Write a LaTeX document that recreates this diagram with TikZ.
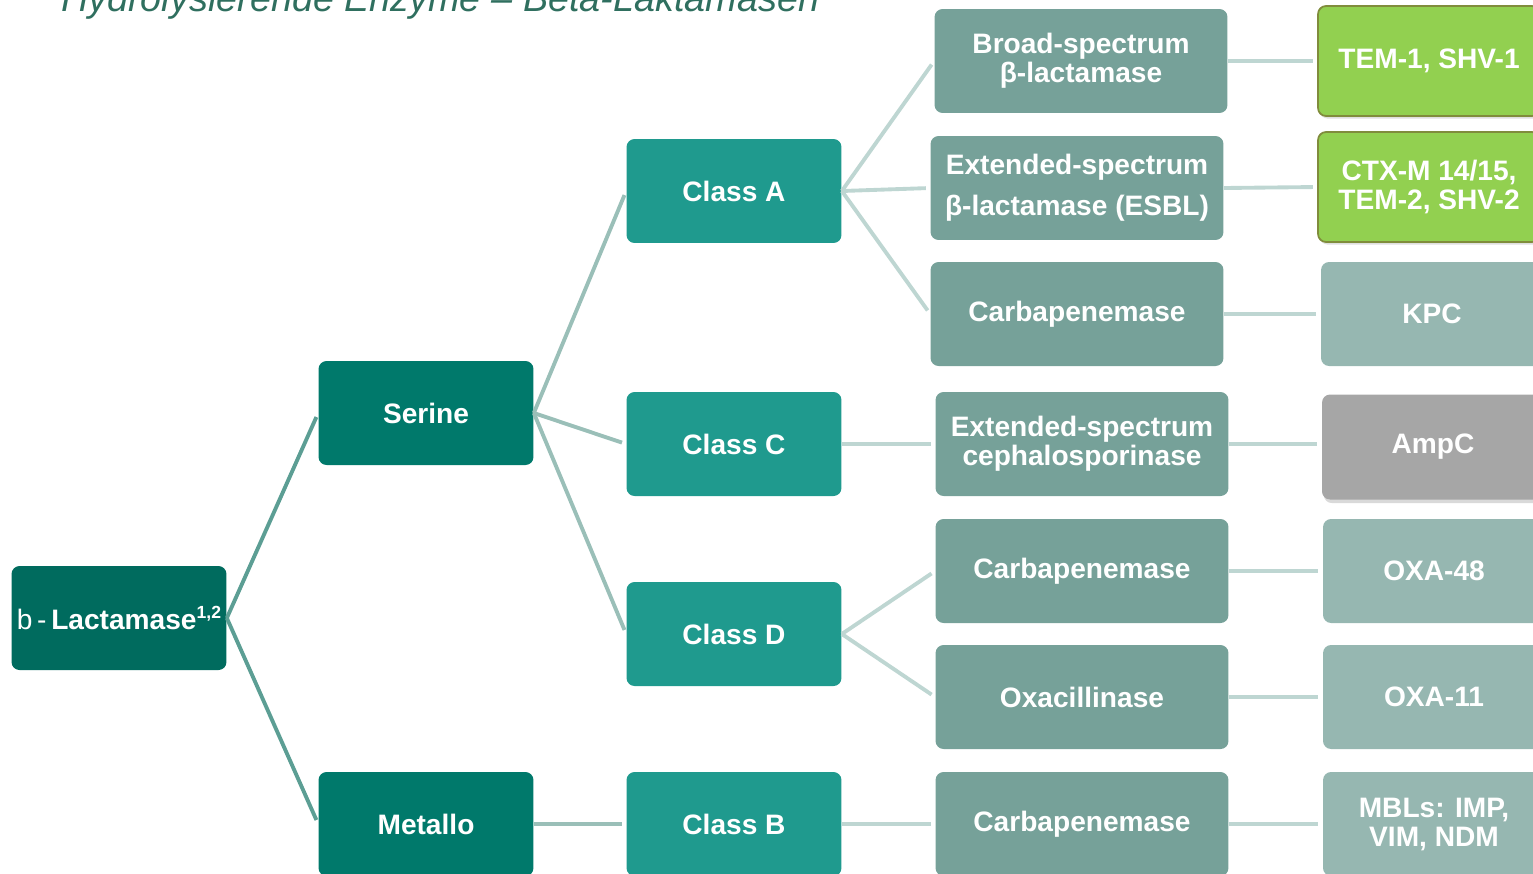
\documentclass[tikz,border=0pt]{standalone}
\usepackage{fontspec}
\setmainfont{Liberation Sans}
\usetikzlibrary{shadows}

\definecolor{rootgreen}{RGB}{0,107,94}
\definecolor{kindgreen}{RGB}{0,121,107}
\definecolor{classgreen}{RGB}{31,154,142}
\definecolor{typegreen}{RGB}{118,161,153}
\definecolor{examplegrey}{RGB}{150,183,177}
\definecolor{limegreen}{RGB}{146,208,80}
\definecolor{limeborder}{RGB}{128,140,60}
\definecolor{ampgrey}{RGB}{166,166,166}
\definecolor{titlegreen}{RGB}{47,111,95}
\definecolor{linkdark}{RGB}{92,158,148}
\definecolor{linkmid}{RGB}{154,191,184}
\definecolor{linklight}{RGB}{190,214,210}

\begin{document}
\begin{tikzpicture}[x=0.02cm,y=-0.02cm]
\tikzset{box/.style={rounded corners=0.16cm,text=white,align=center,inner sep=0pt,
  font=\fontsize{16}{16.5}\selectfont\bfseries},
  rootbox/.style={box,fill=rootgreen,minimum width=4.3cm,minimum height=2.08cm},
  kindbox/.style={box,fill=kindgreen,minimum width=4.3cm,minimum height=2.08cm},
  classbox/.style={box,fill=classgreen,minimum width=4.3cm,minimum height=2.08cm},
  typebox/.style={box,fill=typegreen,minimum width=5.86cm,minimum height=2.08cm},
  exbox/.style={box,fill=examplegrey,minimum width=4.44cm,minimum height=2.08cm},
  limebox/.style={box,fill=limegreen,draw=limeborder,line width=1pt,minimum width=4.44cm,minimum height=2.2cm,
    drop shadow={opacity=0.25,shadow xshift=1pt,shadow yshift=-1.5pt}},
  ampbox/.style={box,fill=ampgrey,minimum width=4.44cm,minimum height=2.1cm,
    drop shadow={opacity=0.3,shadow xshift=1pt,shadow yshift=-2pt}},
  link/.style={line width=2.2pt,shorten >=2.5pt}}
\path[use as bounding box] (0,0) rectangle (1533,873);
\clip (0,0) rectangle (1533,873);

\node[anchor=base west,text=titlegreen,font=\fontsize{21.5}{24}\selectfont\itshape] (title) at (55,11) {Hydrolysierende Enzyme -- Beta-Laktamasen};

% tree, left to right
\node[rootbox] (lact) at (119,618) {{\mdseries b\,-\,}Lactamase\raisebox{6pt}{\fontsize{10}{10}\selectfont 1,2}};

\node[kindbox] (serine) at (426,413) {Serine};
\node[kindbox] (metallo) at (426,824) {Metallo};

\node[classbox] (classa) at (734,191) {Class A};
\node[classbox] (classc) at (734,444) {Class C};
\node[classbox] (classd) at (734,634) {Class D};
\node[classbox] (classb) at (734,824) {Class B};

\node[typebox] (broad) at (1081,61) {Broad-spectrum\\β-lactamase};
\node[typebox] (esbl) at (1077,188) {Extended-spectrum\\[7pt]β-lactamase (ESBL)};
\node[typebox] (carba) at (1077,314) {Carbapenemase};
\node[typebox] (ceph) at (1082,444) {Extended-spectrum\\cephalosporinase};
\node[typebox] (carbd) at (1082,571) {Carbapenemase};
\node[typebox] (oxacil) at (1082,697) {Oxacillinase};
\node[typebox] (carbb) at (1082,824) {Carbapenemase};

\node[limebox] (tem) at (1429,61) {TEM-1, SHV-1};
\node[limebox] (ctx) at (1429,187) {CTX-M 14/15,\\TEM-2, SHV-2};
\node[exbox] (kpc) at (1432,314) {KPC};
\node[ampbox] (ampc) at (1433,447) {AmpC};
\node[exbox] (oxafe) at (1434,571) {OXA-48};
\node[exbox] (oxael) at (1434,697) {OXA-11};
\node[exbox] (mbl) at (1434,824) {MBLs: IMP,\\VIM, NDM};

% connectors
\foreach \a/\b in {lact/serine,lact/metallo}
  \draw[link,linkdark] (\a.east) -- (\b.west);
\foreach \a/\b in {serine/classa,serine/classc,serine/classd,metallo/classb}
  \draw[link,linkmid] (\a.east) -- (\b.west);
\foreach \a/\b in {classa/broad,classa/esbl,classa/carba,classc/ceph,classd/carbd,classd/oxacil,classb/carbb,
  broad/tem,esbl/ctx,carba/kpc,carbd/oxafe,oxacil/oxael,carbb/mbl}
  \draw[link,linklight] (\a.east) -- (\b.west);
\draw[link,linklight] (ceph.east) -- (ceph.east -| ampc.west);

\end{tikzpicture}
\end{document}
